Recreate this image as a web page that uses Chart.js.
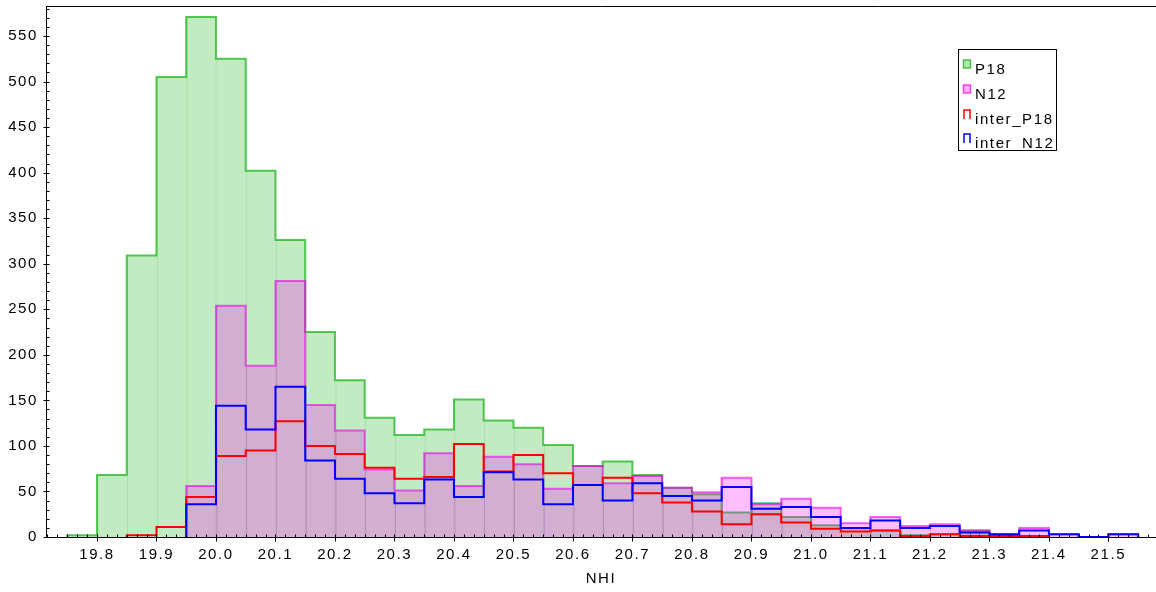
<!DOCTYPE html>
<html>
<head>
<meta charset="utf-8">
<script src="https://cdn.jsdelivr.net/npm/chart.js@4.4.1/dist/chart.umd.min.js"></script>
<style>
  html, body { margin: 0; padding: 0; background: #ffffff; }
  #wrap { width: 1156px; height: 592px; position: relative; }
  canvas { display: block; }
</style>
</head>
<body>
<div id="wrap"><canvas id="c" width="1156" height="592"></canvas></div>
<script>
// ---------------- DATA ----------------
const binEdges = [19.75, 19.80, 19.85, 19.90, 19.95, 20.00, 20.05, 20.10, 20.15, 20.20,
                  20.25, 20.30, 20.35, 20.40, 20.45, 20.50, 20.55, 20.60, 20.65, 20.70,
                  20.75, 20.80, 20.85, 20.90, 20.95, 21.00, 21.05, 21.10, 21.15, 21.20,
                  21.25, 21.30, 21.35, 21.40, 21.45, 21.50, 21.55];
const xTickLabels = ['19.8','19.9','20.0','20.1','20.2','20.3','20.4','20.5','20.6','20.7',
                     '20.8','20.9','21.0','21.1','21.2','21.3','21.4','21.5'];
const yTickLabels = ['0','50','100','150','200','250','300','350','400','450','500','550'];
const seriesNames = ['P18', 'N12', 'inter_P18', 'inter_N12'];
const xTitle = 'NHI';

const P18      = [2, 68, 309, 505, 571, 525, 402, 326, 225, 172, 131, 112, 118, 151, 128, 120, 101, 78, 83, 68,
                  54, 47, 27, 37, 22, 13, 10, 7, 2, 3, 7, 1, 0, 0, 0, 0];
const N12      = [0, 0, 0, 0, 56, 254, 188, 281, 145, 117, 74, 51, 92, 56, 88, 80, 53, 78, 59, 67,
                  54, 49, 65, 36, 42, 32, 15, 22, 12, 14, 7, 3, 10, 3, 0, 3];
const interP18 = [0, 0, 2, 11, 44, 89, 95, 127, 100, 91, 76, 64, 66, 102, 72, 90, 70, 57, 65, 48,
                  38, 28, 14, 25, 16, 9, 6, 7, 1, 3, 1, 1, 1, 0, 0, 0];
const interN12 = [0, 0, 0, 0, 36, 144, 118, 165, 84, 64, 48, 37, 63, 44, 71, 63, 36, 57, 40, 59,
                  45, 40, 55, 31, 33, 22, 10, 18, 10, 12, 5, 3, 7, 3, 0, 3];

// ---------------- HELPERS ----------------
function barPoints(vals) {
  return vals.map((v, i) => ({ x: (binEdges[i] + binEdges[i + 1]) / 2, y: v }));
}
function stepPoints(vals) {
  let first = vals.findIndex(v => v > 0);
  let last = vals.length - 1;
  while (last > 0 && vals[last] === 0) last--;
  const pts = [{ x: binEdges[first], y: 0 }];
  for (let i = first; i <= last; i++) pts.push({ x: binEdges[i], y: vals[i] });
  pts.push({ x: binEdges[last + 1], y: vals[last] });
  pts.push({ x: binEdges[last + 1], y: 0 });
  return pts;
}

const FONT = "'Liberation Sans', Arial, Helvetica, sans-serif";
Chart.defaults.font.family = FONT;
Chart.defaults.font.size = 15;
Chart.defaults.color = '#000';

const COLORS = {
  greenFill: 'rgba(0,170,0,0.24)', greenSeam: 'rgba(0,170,0,0.22)', greenLine: 'rgba(30,180,30,0.75)',
  magFill: 'rgba(255,0,255,0.255)', magSeam: 'rgba(170,0,170,0.25)', magLine: 'rgba(230,0,230,0.6)',
  red: '#ff0000', blue: '#0000ff'
};

const decor = {
  id: 'decor',
  beforeDraw(c) { c.ctx.letterSpacing = '1.6px'; },
  afterDraw(c) {
    const { ctx, chartArea: a, scales: { x, y } } = c;
    ctx.save();
    ctx.strokeStyle = '#000';
    ctx.lineWidth = 1;
    const by = Math.round(a.bottom) + 0.5;
    const lx = Math.round(a.left) + 0.5;
    // frame / axis lines redrawn on top of the histograms
    ctx.beginPath();
    ctx.moveTo(lx, by);
    ctx.lineTo(lx, Math.round(a.top) + 0.5);
    ctx.lineTo(a.right, Math.round(a.top) + 0.5);
    ctx.moveTo(lx, by);
    ctx.lineTo(a.right, by);
    ctx.stroke();
    // x ticks (minor every 1/60, major on labels)
    ctx.beginPath();
    for (let j = -10; j <= 120; j++) {
      const v = 19.8 + j / 60;
      if (v < x.min || v > x.max) continue;
      const px = Math.round(x.getPixelForValue(v)) + 0.5;
      const major = j % 6 === 0;
      ctx.moveTo(px, by - 3);
      ctx.lineTo(px, major ? by + 4 : by);
    }
    ctx.stroke();
    // y ticks (minor every 10, major every 50)
    ctx.beginPath();
    for (let v = 0; v <= y.max; v += 10) {
      const py = Math.round(y.getPixelForValue(v)) + 0.5;
      const major = v % 50 === 0;
      ctx.moveTo(major ? lx - 3 : lx, py);
      ctx.lineTo(lx + 3, py);
    }
    ctx.stroke();

    // legend box
    const L = 958.5, T = 49.5, R = 1056.5, B = 150.5;
    ctx.fillStyle = '#fff';
    ctx.fillRect(L, T, R - L, B - T);
    ctx.strokeRect(L, T, R - L, B - T);
    const rows = [69, 94, 119, 143];
    ctx.font = '15px ' + FONT;
    ctx.letterSpacing = '1.6px';
    ctx.textBaseline = 'middle';
    ctx.textAlign = 'left';
    rows.forEach((ry, i) => {
      const top = ry - 9, bot = ry - 1;
      if (i < 2) {
        ctx.fillStyle = i === 0 ? 'rgba(0,170,0,0.3)' : 'rgba(255,0,255,0.3)';
        ctx.fillRect(963.5, top, 7, bot - top);
        ctx.strokeStyle = i === 0 ? 'rgba(30,180,30,0.8)' : 'rgba(230,0,230,0.7)';
        ctx.lineWidth = 1.5;
        ctx.strokeRect(963.5, top, 7, bot - top);
      } else {
        ctx.strokeStyle = i === 2 ? COLORS.red : COLORS.blue;
        ctx.lineWidth = 1.5;
        ctx.beginPath();
        ctx.moveTo(964, bot + 1);
        ctx.lineTo(964, top);
        ctx.lineTo(970, top);
        ctx.lineTo(970, bot + 1);
        ctx.stroke();
      }
      ctx.fillStyle = '#000';
      ctx.fillText(seriesNames[i], 975, ry + 1);
    });
    ctx.restore();
  }
};

const barCommon = {
  type: 'bar', grouped: false, barPercentage: 1, categoryPercentage: 1,
  borderSkipped: false, borderWidth: { left: 1, right: 0, top: 0, bottom: 0 }
};
const lineCommon = { type: 'line', stepped: 'before', pointRadius: 0, fill: false, borderWidth: 2, tension: 0 };

new Chart(document.getElementById('c'), {
  type: 'bar',
  data: {
    datasets: [
      Object.assign({}, barCommon, { label: seriesNames[0], data: barPoints(P18), backgroundColor: COLORS.greenFill, borderColor: COLORS.greenSeam, order: 6 }),
      Object.assign({}, lineCommon, { label: seriesNames[0] + ' outline', data: stepPoints(P18), borderColor: COLORS.greenLine, order: 5 }),
      Object.assign({}, barCommon, { label: seriesNames[1], data: barPoints(N12), backgroundColor: COLORS.magFill, borderColor: COLORS.magSeam, order: 4 }),
      Object.assign({}, lineCommon, { label: seriesNames[1] + ' outline', data: stepPoints(N12), borderColor: COLORS.magLine, order: 3 }),
      Object.assign({}, lineCommon, { label: seriesNames[2], data: stepPoints(interP18), borderColor: COLORS.red, order: 2 }),
      Object.assign({}, lineCommon, { label: seriesNames[3], data: stepPoints(interN12), borderColor: COLORS.blue, order: 1 })
    ]
  },
  options: {
    responsive: false,
    animation: false,
    devicePixelRatio: 1,
    layout: { padding: { top: 6, right: 0, left: 0, bottom: 0 } },
    plugins: { legend: { display: false }, tooltip: { enabled: false } },
    scales: {
      x: {
        type: 'linear', min: 19.7143, max: 21.58, offset: false,
        grid: { display: false },
        border: { display: true, color: '#000', width: 1 },
        afterBuildTicks: s => { s.ticks = xTickLabels.map(t => ({ value: parseFloat(t) })); },
        afterFit: s => { s.height = 55; s.paddingLeft = 0; s.paddingRight = 0; },
        ticks: { autoSkip: false, maxRotation: 0, padding: 1, color: '#000',
                 callback: (v, i) => xTickLabels[i] },
        title: { display: true, text: xTitle, color: '#000', padding: { top: 0, bottom: 4 }, font: { size: 15 } }
      },
      y: {
        type: 'linear', min: 0, max: 583,
        grid: { display: false },
        border: { display: true, color: '#000', width: 1 },
        afterBuildTicks: s => { s.ticks = yTickLabels.map(t => ({ value: parseFloat(t) })); },
        afterFit: s => { s.width = 46; s.paddingTop = 0; s.paddingBottom = 0; },
        ticks: { padding: 0, color: '#000', callback: (v, i) => yTickLabels[i] }
      }
    }
  },
  plugins: [decor]
});
</script>
</body>
</html>
